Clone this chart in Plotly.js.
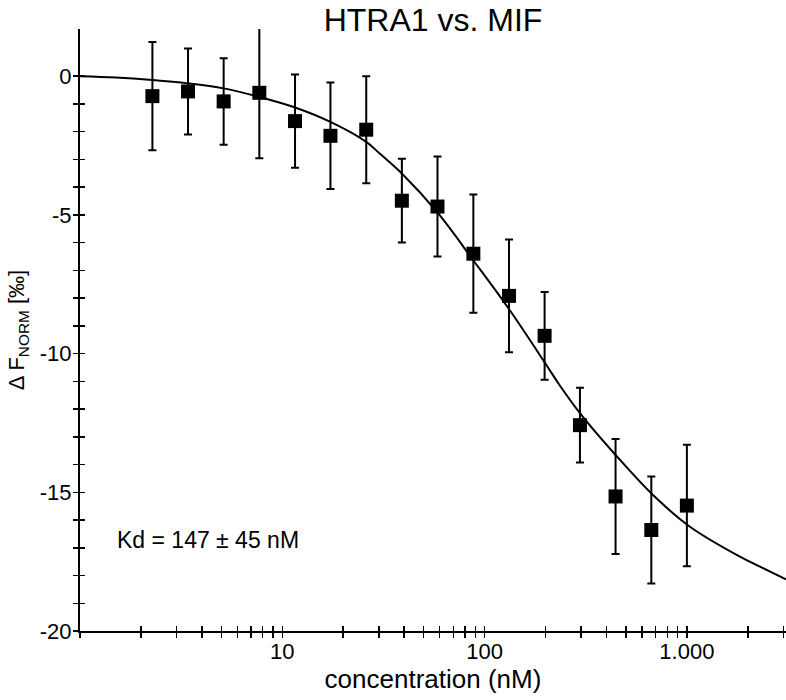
<!DOCTYPE html>
<html>
<head>
<meta charset="utf-8">
<script src="https://cdn.plot.ly/plotly-3.0.1.min.js"></script>
<style>html,body{margin:0;padding:0;background:#fff;}#chart{width:786px;height:700px;}</style>
</head>
<body>
<div id="chart"></div>
<script>
// Measured points (concentration in nM, delta Fnorm in per mille, error)
var concentration = [2.28, 3.42, 5.13, 7.7, 11.56, 17.3, 26, 39, 58.5, 88, 132, 198, 296, 444, 667, 1000];
var fnorm = [-0.72, -0.55, -0.91, -0.6, -1.62, -2.15, -1.93, -4.49, -4.70, -6.40, -7.92, -9.36, -12.58, -15.15, -16.36, -15.48];
var fnormErr = [1.95, 1.55, 1.56, 2.36, 1.68, 1.92, 1.93, 1.51, 1.80, 2.13, 2.03, 1.58, 1.35, 2.07, 1.93, 2.19];

// Fit curve
var fitConc = [1, 1.5, 2.28, 3.42, 5.13, 7.7, 11.56, 17.3, 26, 30.3, 39, 59, 89, 133, 202, 235, 300, 450, 680, 1035, 1829, 2297, 3090];
var fitVal = [0, -0.05, -0.14, -0.26, -0.44, -0.75, -1.13, -1.65, -2.37, -2.79, -3.51, -4.95, -6.69, -8.43, -10.41, -11.14, -12.2, -13.7, -15.1, -16.24, -17.32, -17.68, -18.14];

// Axis ticks
var xTickVals = [1,2,3,4,5,6,7,8,9,10,20,30,40,50,60,70,80,90,100,200,300,400,500,600,700,800,900,1000,2000,3000];
var xTickText = ['','','','','','','','','','10','','','','','','','','','100','','','','','','','','','1.000','',''];
var yTickVals = [-20,-19,-18,-17,-16,-15,-14,-13,-12,-11,-10,-9,-8,-7,-6,-5,-4,-3,-2,-1,0];
var yTickText = ['-20','','','','','-15','','','','','-10','','','','','-5','','','','','0'];

var titleText = 'HTRA1 vs. MIF';
var xTitle = 'concentration (nM)';
var yTitle = '\u0394 F<sub>NORM</sub> [\u2030]';
var kdText = 'Kd = 147 \u00b1 45 nM';

var FONT = '"Liberation Sans", Arial, Helvetica, sans-serif';
var xRange = [0, Math.log10(3090)];
var yRange = [-20, 1.7];

var fitTrace = {
  x: fitConc, y: fitVal, type: 'scatter', mode: 'lines',
  line: {color: '#000', width: 2, shape: 'spline', smoothing: 1},
  xaxis: 'x', yaxis: 'y', hoverinfo: 'skip', showlegend: false
};
var dataTrace = {
  x: concentration, y: fnorm, type: 'scatter', mode: 'markers',
  marker: {symbol: 'square', size: 14, color: '#000'},
  error_y: {type: 'data', array: fnormErr, visible: true, color: '#000', thickness: 2, width: 4},
  xaxis: 'x2', yaxis: 'y2', showlegend: false
};

var commonX = {
  type: 'log', range: xRange, tickmode: 'array', tickvals: xTickVals,
  showgrid: false, zeroline: false, ticklen: 5, tickwidth: 1.5, tickcolor: '#000'
};
var commonY = {
  range: yRange, tickmode: 'array', tickvals: yTickVals,
  showgrid: false, zeroline: false, ticklen: 5, tickwidth: 1.5, tickcolor: '#000'
};

var layout = {
  width: 786, height: 700,
  margin: {l: 80, r: 0, t: 29, b: 69, pad: 0},
  paper_bgcolor: '#fff', plot_bgcolor: '#fff',
  font: {family: FONT, color: '#000', size: 21},
  showlegend: false,
  title: {text: titleText, font: {size: 32, family: FONT, color: '#000'},
          x: 0.5, xref: 'paper', xanchor: 'center', y: 0.972, yref: 'container', yanchor: 'middle'},
  xaxis: Object.assign({}, commonX, {
    ticks: 'outside', ticktext: xTickText, showline: true, linewidth: 2, linecolor: '#000',
    tickfont: {size: 22, family: FONT, color: '#000'}, ticklabelstandoff: -5,
    title: {text: xTitle, font: {size: 26, family: FONT, color: '#000'}, standoff: 4},
    anchor: 'y'
  }),
  yaxis: Object.assign({}, commonY, {
    ticks: 'outside', ticktext: yTickText, showline: true, linewidth: 2, linecolor: '#000',
    tickfont: {size: 22, family: FONT, color: '#000'}, ticklabelstandoff: -3,
    title: {text: yTitle, font: {size: 22, family: FONT, color: '#000'}, standoff: 9},
    anchor: 'x'
  }),
  xaxis2: Object.assign({}, commonX, {
    ticks: 'inside', showticklabels: false, showline: false, overlaying: 'x', anchor: 'y2', side: 'bottom'
  }),
  yaxis2: Object.assign({}, commonY, {
    ticks: 'inside', showticklabels: false, showline: false, overlaying: 'y', anchor: 'x2', side: 'left'
  }),
  annotations: [{
    text: kdText, xref: 'paper', yref: 'paper', x: 0.0496, y: 0.151,
    xanchor: 'left', yanchor: 'middle', showarrow: false,
    font: {size: 23, family: FONT, color: '#000'}
  }]
};

Plotly.newPlot('chart', [fitTrace, dataTrace], layout, {displayModeBar: false, staticPlot: true});
</script>
</body>
</html>
